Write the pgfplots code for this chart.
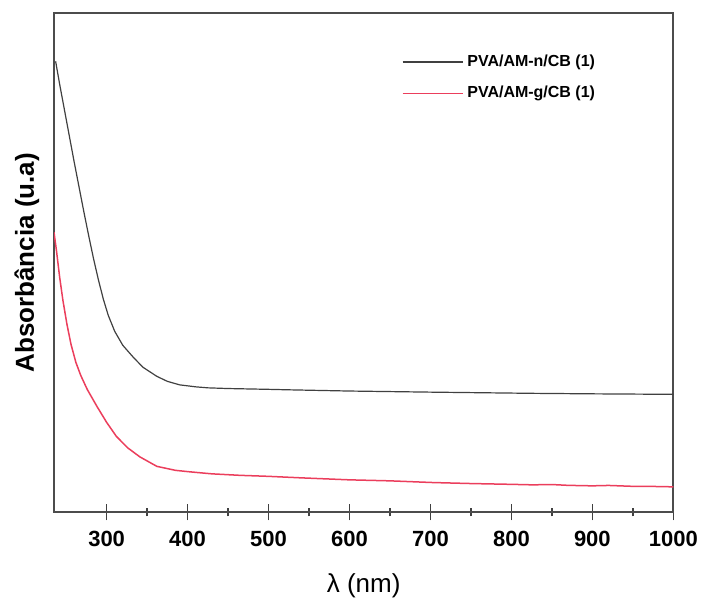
\documentclass[border=0pt]{standalone}
\usepackage{fontspec}
\setmainfont{Liberation Sans}
\usepackage{pgfplots}
\pgfplotsset{compat=1.18}
\definecolor{curvered}{RGB}{235,62,92}

\pgfplotstableread{
x y
237 451
242 428
248 402
254 376
260 350
266 325
272 300
278 276
284 253
290 232
296 213
302 197
310 181
320 167
333 155
345 145
362 136
375 131
390 127.5
410 125.5
425 124.5
450 123.8
500 123
526 122.5
600 121.3
700 120.2
826 119
900 118.5
1000 118
}\blackcurve

\pgfplotstableread{
x y
235 280
238 262
242 235
246 212
251 188
256 168
262 150
268 137
276 123
288 106
300 90
312 76
326 64.5
341 55.5
362 46
385 42
403 40.5
430 38.5
465 37
500 36
540 34.5
600 32.5
650 31.5
703 29.8
750 28.8
800 28
826 27.5
850 27.8
870 27
900 26.5
920 26.9
950 26
975 25.9
1000 25.5
}\redcurve

\begin{document}
\begin{tikzpicture}
\begin{axis}[
  scale only axis, width=309.65pt, height=249.5pt,
  xmin=235, xmax=1000, ymin=0, ymax=499,
  xtick={300,400,...,1000}, minor x tick num=1,
  ytick=\empty, xtick pos=bottom,
  tick align=center, major tick length=8pt, minor tick length=4pt,
  every tick/.style={black!75, line width=0.8pt},
  axis line style={black!70, line width=1pt},
  /pgf/number format/assume math mode=true,
  /pgf/number format/1000 sep={},
  xticklabel style={font=\bfseries\fontsize{11}{13}\selectfont, yshift=-2pt},
  xlabel={λ (nm)},
  xlabel style={font=\fontsize{13}{15}\selectfont, at={(axis description cs:0.5,-0.147)}, anchor=center},
  ylabel={Absorbância (u.a)},
  ylabel style={font=\bfseries\fontsize{13}{15}\selectfont, at={(axis description cs:-0.044,0.5)}, anchor=center},
  legend style={font=\bfseries\fontsize{8}{9.6}\selectfont, draw=none, fill=none,
    at={(axis description cs:0.561,0.8707)}, anchor=west, row sep=4.5pt,
    inner sep=0pt, nodes={inner sep=2pt}},
  legend cell align=left,
  legend image code/.code={\draw (0pt,0pt) -- (30pt,0pt);},
]
\addplot[black!75, line width=0.6pt] table {\blackcurve};
\addlegendentry{PVA/AM-n/CB (1)}
\addplot[curvered, line width=0.75pt] table {\redcurve};
\addlegendentry{PVA/AM-g/CB (1)}
\coordinate (bl) at (axis description cs:-0.0872,-0.1697);
\coordinate (tr) at (axis description cs:1.0463,1.0267);
\end{axis}
\pgfresetboundingbox
\useasboundingbox (bl) rectangle (tr);
\end{tikzpicture}
\end{document}
